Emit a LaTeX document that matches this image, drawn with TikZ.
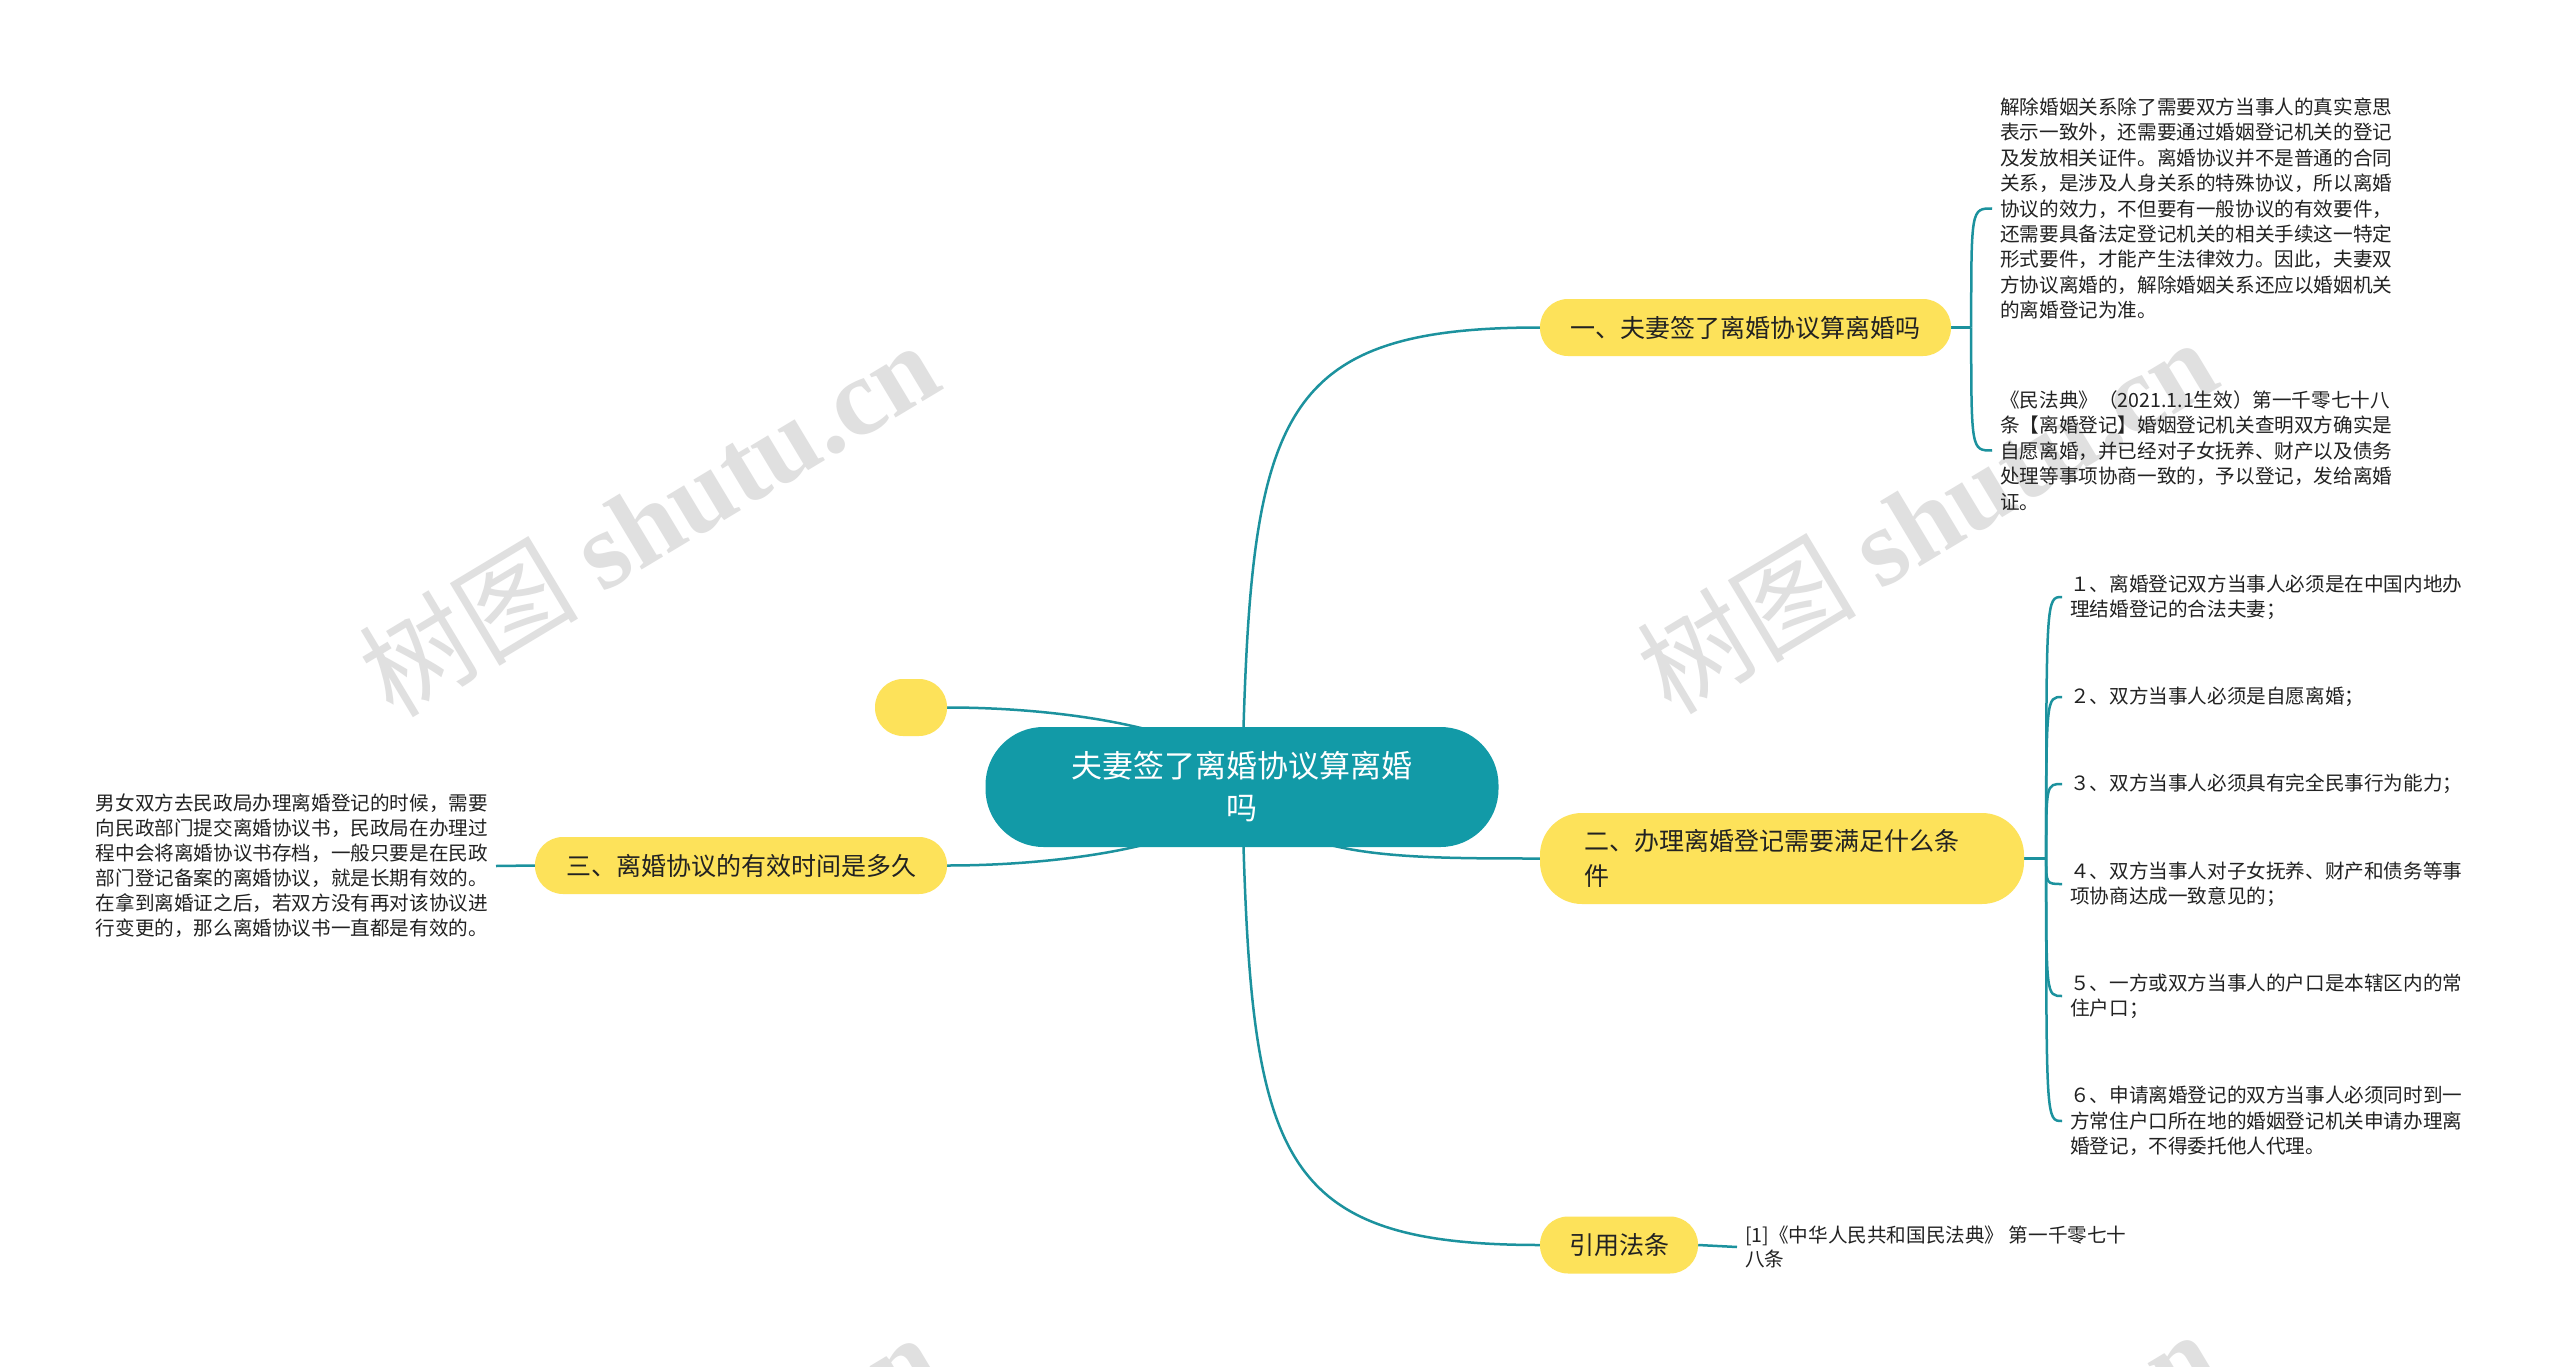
\documentclass[tikz,border=0pt]{standalone}
\usepackage{fontspec}
\setmainfont{Noto Sans CJK SC}
\newfontfamily\marklatin{Liberation Serif}
\usetikzlibrary{backgrounds}

\definecolor{rootteal}{RGB}{18,154,167}
\definecolor{wireteal}{RGB}{28,146,158}
\definecolor{topicyellow}{RGB}{253,226,90}
\definecolor{inkdark}{RGB}{34,34,34}
\definecolor{markgray}{RGB}{224,224,224}

\tikzset{
	rootbox/.style={shape=rectangle, fill=rootteal, rounded corners=58pt, minimum width=513pt, minimum height=120pt, inner sep=0pt, text=white, align=center, font=\fontsize{31}{42}\selectfont},
	topicbox/.style={shape=rectangle, fill=topicyellow, rounded corners=28pt, minimum height=57pt, inner sep=0pt, text=inkdark, font=\fontsize{25}{35}\selectfont},
	leaftext/.style={align=left, inner xsep=8pt, inner ysep=0pt, text=inkdark, font=\fontsize{19.6}{25.4}\selectfont},
	wire/.style={draw=wireteal, line width=2.5pt},
	wmark/.style={text=markgray, font=\fontsize{110}{115}\selectfont, inner sep=0pt}
}

\begin{document}
\begin{tikzpicture}[x=1pt, y=-1pt]
	\useasboundingbox (0, 0) rectangle (2560, 1367);

	% Paths, nodes and wires:

	\node[rootbox](Root) at (1242, 787){夫妻签了离婚协议算离婚\\吗};

	\node[topicbox, minimum width=411pt](B1) at (1745.5, 327.5){一、夫妻签了离婚协议算离婚吗};
	\node[topicbox, minimum width=484pt, minimum height=91pt, rounded corners=42pt, text width=395pt, align=left](B2) at (1782, 858.5){二、办理离婚登记需要满足什么条\\件};
	\node[topicbox, minimum width=412pt](B3) at (741, 865.5){三、离婚协议的有效时间是多久};
	\node[topicbox, minimum width=72pt](B4) at (911, 707.5){};
	\node[topicbox, minimum width=158pt](Ref) at (1619, 1245){引用法条};

	\node[leaftext, anchor=west](L1a) at (1992, 208.5){解除婚姻关系除了需要双方当事人的真实意思\\表示一致外，还需要通过婚姻登记机关的登记\\及发放相关证件。离婚协议并不是普通的合同\\关系，是涉及人身关系的特殊协议，所以离婚\\协议的效力，不但要有一般协议的有效要件，\\还需要具备法定登记机关的相关手续这一特定\\形式要件，才能产生法律效力。因此，夫妻双\\方协议离婚的，解除婚姻关系还应以婚姻机关\\的离婚登记为准。};
	\node[leaftext, anchor=west](L1b) at (1992, 450.5){《民法典》（2021.1.1生效）第一千零七十八\\条【离婚登记】婚姻登记机关查明双方确实是\\自愿离婚，并已经对子女抚养、财产以及债务\\处理等事项协商一致的，予以登记，发给离婚\\证。};

	\node[leaftext, anchor=west](L2a) at (2062, 597){１、离婚登记双方当事人必须是在中国内地办\\理结婚登记的合法夫妻；};
	\node[leaftext, anchor=west](L2b) at (2062, 697){２、双方当事人必须是自愿离婚；};
	\node[leaftext, anchor=west](L2c) at (2062, 784){３、双方当事人必须具有完全民事行为能力；};
	\node[leaftext, anchor=west](L2d) at (2062, 884){４、双方当事人对子女抚养、财产和债务等事\\项协商达成一致意见的；};
	\node[leaftext, anchor=west](L2e) at (2062, 996){５、一方或双方当事人的户口是本辖区内的常\\住户口；};
	\node[leaftext, anchor=west](L2f) at (2062, 1121){６、申请离婚登记的双方当事人必须同时到一\\方常住户口所在地的婚姻登记机关申请办理离\\婚登记，不得委托他人代理。};

	\node[leaftext, anchor=east, font=\fontsize{19.6}{25}\selectfont](L3) at (496, 866){男女双方去民政局办理离婚登记的时候，需要\\向民政部门提交离婚协议书，民政局在办理过\\程中会将离婚协议书存档，一般只要是在民政\\部门登记备案的离婚协议，就是长期有效的。\\在拿到离婚证之后，若双方没有再对该协议进\\行变更的，那么离婚协议书一直都是有效的。};

	\node[leaftext, anchor=west, font=\fontsize{19.6}{24}\selectfont](RefLeaf) at (1737, 1247){[1]《中华人民共和国民法典》 第一千零七十\\八条};

	\begin{scope}[on background layer]
		\fill[white] (0, 0) rectangle (2560, 1367);
		\clip (0, 0) rectangle (2560, 1367);

		% watermarks
		\node[wmark, rotate=31](W1) at (648, 518){树图 {\marklatin\bfseries shutu.cn}};
		\node[wmark, rotate=31](W2) at (1926, 515){树图 {\marklatin\bfseries shutu.cn}};
		\node[wmark, rotate=31](W3) at (648, 1510){树图 {\marklatin\bfseries shutu.cn}};
		\node[wmark, rotate=31](W4) at (1926, 1507){树图 {\marklatin\bfseries shutu.cn}};

		% root to topics
		\draw[wire] (Root.center) .. controls (1250, 420) and (1270, 327.5) .. (B1.west);
		\draw[wire] (Root.center) .. controls (1285, 858) and (1390, 858.5) .. (B2.west);
		\draw[wire] (Root.center) .. controls (1250, 1154) and (1270, 1245) .. (Ref.west);
		\draw[wire] (Root.center) .. controls (1230, 735) and (1080, 707.5) .. (B4.east);
		\draw[wire] (Root.center) .. controls (1230, 839) and (1080, 865.5) .. (B3.east);

		% topics to leaves
		\draw[wire] (B1.east) -- ++(20, 0) coordinate (J1);
		\draw[wire] (J1) .. controls (J1 |- L1a.west) .. (L1a.west);
		\draw[wire] (J1) .. controls (J1 |- L1b.west) .. (L1b.west);

		\draw[wire] (B2.east) -- ++(22, 0) coordinate (J2);
		\draw[wire] (J2) .. controls (J2 |- L2a.west) .. (L2a.west);
		\draw[wire] (J2) .. controls (J2 |- L2b.west) .. (L2b.west);
		\draw[wire] (J2) .. controls (J2 |- L2c.west) .. (L2c.west);
		\draw[wire] (J2) .. controls (J2 |- L2d.west) .. (L2d.west);
		\draw[wire] (J2) .. controls (J2 |- L2e.west) .. (L2e.west);
		\draw[wire] (J2) .. controls (J2 |- L2f.west) .. (L2f.west);

		\draw[wire] (B3.west) -- (L3.east);
		\draw[wire] (Ref.east) -- (RefLeaf.west);
	\end{scope}
\end{tikzpicture}
\end{document}
